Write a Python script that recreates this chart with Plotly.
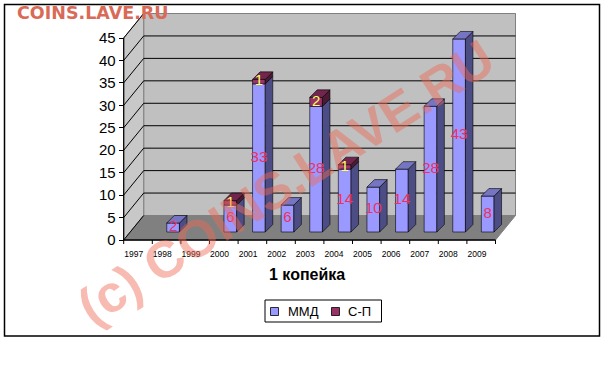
import plotly.graph_objects as go

# ---------------- data ----------------
years = ["1997", "1998", "1999", "2000", "2001", "2002", "2003",
         "2004", "2005", "2006", "2007", "2008", "2009"]
mmd = [0, 2, 0, 6, 33, 6, 28, 14, 10, 14, 28, 43, 8]
sp = [0, 0, 0, 1, 1, 0, 2, 1, 0, 0, 0, 0, 0]
y_ticks = [0, 5, 10, 15, 20, 25, 30, 35, 40, 45]
series_names = ["ММД", "С-П"]
chart_title = "1 копейка"
watermark = "(c) COINS.LAVE.RU"
site = "COINS.LAVE.RU"

# ---------------- geometry (pixels) ----------------
FIG_W, FIG_H = 605, 384
L, RPX, T, B = 110, 525, 12, 244
PX_X = 28.6      # px per category
PX_Y = 4.489     # px per value unit
FRONT_X = 123.7  # px of front-left corner
FRONT_Y0 = 240   # px of value 0 on the front edge

x0 = -0.5 - (FRONT_X - L) / PX_X
x1 = x0 + (RPX - L) / PX_X
y0 = -(B - FRONT_Y0) / PX_Y
y1 = y0 + (B - T) / PX_Y

DEPTH_X = 20 / PX_X
DEPTH_Y = 24.5 / PX_Y
BAR_SHIFT = 6.5 / PX_X
BAR_BASE = 8 / PX_Y
BAR_W = 12.7 / PX_X
BAR_DX = 7.5 / PX_X
BAR_DY = 7.5 / PX_Y
N = len(years)
YMAX = y_ticks[-1]


def px(xp):
    return (xp - L) / (RPX - L)


def py(yp):
    return (B - yp) / (B - T)


C_MMD, C_MMD_SIDE, C_MMD_TOP = "#9999FF", "#4D4D85", "#7575C2"
C_SP, C_SP_SIDE, C_SP_TOP = "#993366", "#4D1A33", "#73264D"

fig = go.Figure()

# front faces
xi_m = [i + BAR_SHIFT for i in range(N) if mmd[i] > 0]
fig.add_trace(go.Bar(
    x=xi_m, y=[v for v in mmd if v > 0], base=BAR_BASE, width=BAR_W,
    marker=dict(color=C_MMD, line=dict(color="black", width=0.6)),
    name=series_names[0], showlegend=False, hoverinfo="skip"))
idx_s = [i for i in range(N) if sp[i] > 0]
fig.add_trace(go.Bar(
    x=[i + BAR_SHIFT for i in idx_s], y=[sp[i] for i in idx_s],
    base=[BAR_BASE + mmd[i] for i in idx_s], width=BAR_W,
    marker=dict(color=C_SP, line=dict(color="black", width=0.6)),
    name=series_names[1], showlegend=False, hoverinfo="skip"))

# 3D side and top faces, derived from the values
polys = {"ms": ([], []), "ss": ([], []), "mt": ([], []), "st": ([], [])}
for i in range(N):
    xc = i + BAR_SHIFT
    xl, xr = xc - BAR_W / 2, xc + BAR_W / 2
    segs = [(mmd[i], BAR_BASE, "m"), (sp[i], BAR_BASE + mmd[i], "s")]
    top_key = None
    top_val = None
    for v, b0, k in segs:
        if v > 0:
            b1 = b0 + v
            px_, py_ = polys[k + "s"]
            px_ += [xr, xr + BAR_DX, xr + BAR_DX, xr, xr, None]
            py_ += [b0, b0 + BAR_DY, b1 + BAR_DY, b1, b0, None]
            top_key, top_val = k, b1
    if top_key:
        tx, ty = polys[top_key + "t"]
        b1 = top_val
        tx += [xl, xr, xr + BAR_DX, xl + BAR_DX, xl, None]
        ty += [b1, b1, b1 + BAR_DY, b1 + BAR_DY, b1, None]

for key, col in [("ms", C_MMD_SIDE), ("ss", C_SP_SIDE), ("mt", C_MMD_TOP), ("st", C_SP_TOP)]:
    xs, ys = polys[key]
    if xs:
        fig.add_trace(go.Scatter(x=xs, y=ys, mode="lines", fill="toself",
                                 fillcolor=col, line=dict(color="black", width=0.6),
                                 showlegend=False, hoverinfo="skip"))

# data labels
fig.add_trace(go.Scatter(
    x=xi_m, y=[BAR_BASE + v / 2 for v in mmd if v > 0],
    text=[str(v) for v in mmd if v > 0], mode="text",
    textfont=dict(color="#F0305E", size=15, family="Liberation Sans, Arial"),
    showlegend=False, hoverinfo="skip", cliponaxis=False))
fig.add_trace(go.Scatter(
    x=[i + BAR_SHIFT for i in idx_s], y=[BAR_BASE + mmd[i] + sp[i] / 2 for i in idx_s],
    text=[str(sp[i]) for i in idx_s], mode="text",
    textfont=dict(color="#FFFF66", size=15, family="Liberation Sans, Arial"),
    showlegend=False, hoverinfo="skip", cliponaxis=False))

# ---------------- walls / floor / grid ----------------
shapes = []
bx0, bx1 = -0.5 + DEPTH_X, N - 0.5 + DEPTH_X
shapes.append(dict(type="rect", x0=bx0, x1=bx1, y0=DEPTH_Y, y1=YMAX + DEPTH_Y,
                   fillcolor="#C0C0C0", line=dict(color="#808080", width=1), layer="below"))
shapes.append(dict(type="path",
                   path=f"M{-0.5},0 L{-0.5},{YMAX} L{bx0},{YMAX + DEPTH_Y} L{bx0},{DEPTH_Y} Z",
                   fillcolor="#C8C8C8", line=dict(color="#808080", width=1), layer="below"))
shapes.append(dict(type="path",
                   path=f"M{-0.5},0 L{N - 0.5},0 L{bx1},{DEPTH_Y} L{bx0},{DEPTH_Y} Z",
                   fillcolor="#808080", line=dict(color="#808080", width=1), layer="below"))
for v in y_ticks[1:]:
    col = "black" if v < YMAX else "#808080"
    shapes.append(dict(type="line", x0=bx0, x1=bx1, y0=v + DEPTH_Y, y1=v + DEPTH_Y,
                       line=dict(color=col, width=1), layer="below"))
for v in y_ticks:
    shapes.append(dict(type="line", x0=-0.5, x1=bx0, y0=v, y1=v + DEPTH_Y,
                       line=dict(color="black", width=1), layer="below"))
shapes.append(dict(type="line", x0=-0.5, x1=-0.5, y0=0, y1=YMAX,
                   line=dict(color="black", width=1.2), layer="below"))
shapes.append(dict(type="line", x0=-0.5, x1=N - 0.5, y0=0, y1=0,
                   line=dict(color="black", width=1.5), layer="below"))
for k in range(N + 1):
    shapes.append(dict(type="line", x0=k - 0.5, x1=k - 0.5, y0=0, y1=-4 / PX_Y,
                       line=dict(color="black", width=1), layer="below"))

# outer frame
shapes.append(dict(type="rect", xref="paper", yref="paper",
                   x0=px(4.5), x1=px(599.5), y0=py(336), y1=py(4.5),
                   line=dict(color="black", width=1.5), fillcolor="rgba(0,0,0,0)"))

# legend (box, swatches)
shapes.append(dict(type="rect", xref="paper", yref="paper",
                   x0=px(265), x1=px(381.5), y0=py(322), y1=py(300),
                   line=dict(color="black", width=1), fillcolor="white"))
shapes.append(dict(type="rect", xref="paper", yref="paper",
                   x0=px(270.5), x1=px(278.5), y0=py(315.5), y1=py(307.5),
                   line=dict(color="black", width=0.8), fillcolor=C_MMD))
shapes.append(dict(type="rect", xref="paper", yref="paper",
                   x0=px(331.5), x1=px(339.5), y0=py(315.5), y1=py(307.5),
                   line=dict(color="black", width=0.8), fillcolor=C_SP))

annotations = [
    dict(text=series_names[0], xref="paper", yref="paper", x=px(285.5), y=py(311.5),
         xanchor="left", yanchor="middle", showarrow=False,
         font=dict(size=13, color="black", family="Liberation Sans, Arial")),
    dict(text=series_names[1], xref="paper", yref="paper", x=px(345.5), y=py(311.5),
         xanchor="left", yanchor="middle", showarrow=False,
         font=dict(size=13, color="black", family="Liberation Sans, Arial")),
    dict(text="<b>" + chart_title + "</b>", xref="paper", yref="paper", x=px(307), y=py(274),
         xanchor="center", yanchor="middle", showarrow=False,
         font=dict(size=16, color="black", family="Liberation Sans, Arial")),
    dict(text="<b>" + site + "</b>", xref="paper", yref="paper", x=px(15), y=py(13),
         xanchor="left", yanchor="middle", showarrow=False,
         font=dict(size=17.5, color="#D96A58", family="DejaVu Sans")),
    dict(text="<b>" + watermark + "</b>", xref="paper", yref="paper", x=px(286), y=py(182),
         xanchor="center", yanchor="middle", showarrow=False, textangle=-32.5,
         font=dict(size=52, color="rgba(240,105,85,0.45)", family="Liberation Sans, Arial")),
]

fig.update_layout(
    width=FIG_W, height=FIG_H,
    margin=dict(l=L, r=FIG_W - RPX, t=T, b=FIG_H - B, pad=0),
    paper_bgcolor="white", plot_bgcolor="white",
    barmode="overlay", showlegend=False,
    shapes=shapes, annotations=annotations,
    font=dict(family="Liberation Sans, Arial", color="black"),
    xaxis=dict(range=[x0, x1], showgrid=False, zeroline=False, showline=False,
               tickmode="array", tickvals=[i - 0.15 for i in range(N)], ticktext=years,
               ticks="", tickfont=dict(size=8.5, color="black"), ticklabelstandoff=3,
               anchor="y", fixedrange=True),
    yaxis=dict(range=[y0, y1], showgrid=False, zeroline=False, showline=False,
               tickmode="array", tickvals=y_ticks, ticks="outside", ticklen=5,
               tickcolor="black", tickwidth=1,
               tickfont=dict(size=15, color="black"),
               anchor="free", position=px(FRONT_X), fixedrange=True),
)

fig.write_html("out.html", config={"displayModeBar": False},
               post_script="document.body.style.margin='0px';")
